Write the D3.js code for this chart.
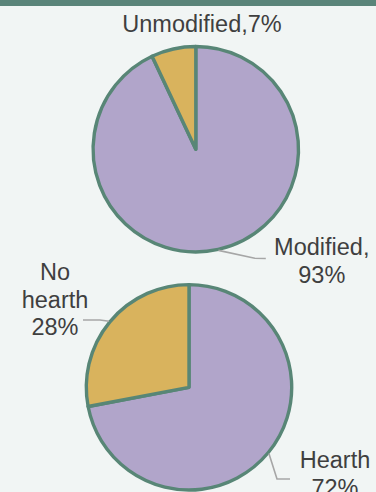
<!DOCTYPE html>
<html>
<head>
<meta charset="utf-8">
<script src="https://cdn.jsdelivr.net/npm/d3@7"></script>
<style>
  html, body { margin: 0; padding: 0; background: #f1f5f4; }
  svg { display: block; }
  text { font-family: "Liberation Sans", Arial, Helvetica, sans-serif; fill: #3f3f3f; }
</style>
</head>
<body>
<svg id="chart" width="376" height="492"></svg>
<script>
// Share of modified artefacts
const modCategories = ["Modified", "Unmodified"];
const modValues = [93, 7];

// Share of features with a hearth
const hearthCategories = ["Hearth", "No hearth"];
const hearthValues = [72, 28];

const W = 376, H = 492;
const colors = { main: "#b1a5ca", other: "#d9b35d", stroke: "#588676", band: "#5a8479", leader: "#a6a6a6" };

const svg = d3.select("#chart");
svg.append("rect").attr("width", W).attr("height", H).attr("fill", "#f1f5f4");
svg.append("rect").attr("width", W).attr("height", 6).attr("fill", colors.band);

const R = 102.7;
const pie = d3.pie().sort(null).value(d => d.value);
const arc = d3.arc().innerRadius(0).outerRadius(R);

function pointAt(angle, r) {
  return [Math.sin(angle) * r, -Math.cos(angle) * r];
}

function drawPie(cx, cy, categories, values, labels) {
  const data = categories.map((c, i) => ({ name: c, value: values[i] }));
  const g = svg.append("g").attr("transform", `translate(${cx},${cy})`);
  const color = d3.scaleOrdinal().domain(categories).range([colors.main, colors.other]);
  const arcs = pie(data);

  g.selectAll("path.slice")
    .data(arcs)
    .join("path")
    .attr("class", "slice")
    .attr("d", arc)
    .attr("fill", d => color(d.data.name))
    .attr("stroke", colors.stroke)
    .attr("stroke-width", 3.4)
    .attr("stroke-linejoin", "round");

  arcs.forEach(a => {
    const lab = labels[a.data.name];
    if (lab.leader) {
      const mid = (a.startAngle + a.endAngle) / 2;
      const start = pointAt(mid, R + 1);
      const pts = [start].concat(lab.leader);
      g.append("path")
        .attr("d", d3.line()(pts))
        .attr("fill", "none")
        .attr("stroke", colors.leader)
        .attr("stroke-width", 1.6);
    }
    const t = g.append("text")
      .attr("text-anchor", "middle")
      .attr("font-size", 23.5);
    lab.lines(a.data).forEach((line, i) => {
      t.append("tspan")
        .attr("x", lab.pos[0])
        .attr("y", lab.pos[1] + i * 27.7)
        .text(line);
    });
  });
}

drawPie(195.8, 149.2, modCategories, modValues, {
  "Modified": {
    pos: [126, 105.8],
    leader: [[59, 109], [70, 109.3]],
    lines: d => [d.name + ",", d.value + "%"]
  },
  "Unmodified": {
    pos: [6.2, -117.2],
    lines: d => [d.name + "," + d.value + "%"]
  }
});

drawPie(189, 387.3, hearthCategories, hearthValues, {
  "Hearth": {
    pos: [146, 81],
    leader: [[88, 91.7], [101, 91.7]],
    lines: d => [d.name, d.value + "%"]
  },
  "No hearth": {
    pos: [-134, -107.3],
    leader: [[-89, -67.3], [-106, -67.3]],
    lines: d => d.name.split(" ").concat([d.value + "%"])
  }
});
</script>
</body>
</html>
